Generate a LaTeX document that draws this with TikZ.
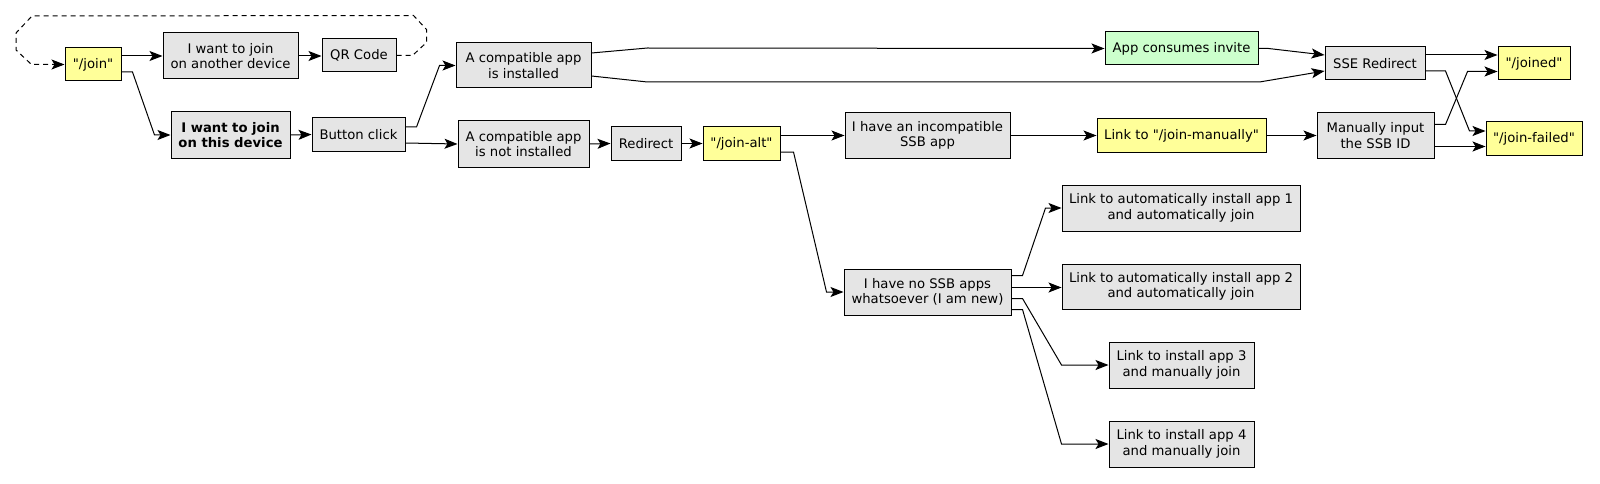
\documentclass[tikz,border=0pt]{standalone}
\usepackage{fontspec}
\setmainfont{DejaVu Sans}
\usetikzlibrary{arrows.meta}
\usetikzlibrary{calc}
\definecolor{boxgray}{HTML}{E5E5E5}
\definecolor{boxyellow}{HTML}{FFFF99}
\definecolor{boxgreen}{HTML}{CCFFCC}
\newcommand{\qroute}[1]{\textquotedbl#1\textquotedbl}

\begin{document}
\begin{tikzpicture}[x=1pt,y=-1pt,
    every node/.style={font=\fontsize{13.2}{15.5}\selectfont},
    box/.style={draw=black, line width=1pt, fill=boxgray, align=center, inner sep=0pt},
    ybox/.style={box, fill=boxyellow},
    gbox/.style={box, fill=boxgreen},
    arr/.style={-{Stealth[length=13pt,width=10pt,inset=3pt]}, line width=1pt}]
     \useasboundingbox (0,0) rectangle (1600,484);

     \node[ybox, minimum width=56, minimum height=33] (join) at (93,64.5) {\qroute{/join}};
     \node[box, minimum width=135, minimum height=46] (another) at (230.5,56) {I want to join\\on another device};
     \node[box, minimum width=74, minimum height=33] (qr) at (359,55.5) {QR Code};
     \node[box, minimum width=119, minimum height=46, font=\fontsize{13.2}{15.5}\selectfont\bfseries] (thisdev) at (230.5,135) {I want to join\\on this device};
     \node[box, minimum width=93, minimum height=33] (button) at (358.5,134.5) {Button click};

     \node[box, minimum width=135, minimum height=45] (installed) at (523.5,65.5) {A compatible app\\is installed};
     \node[box, minimum width=131, minimum height=46] (notinst) at (523.5,144) {A compatible app\\is not installed};
     \node[box, minimum width=70, minimum height=33] (redirect) at (646,143.5) {Redirect};
     \node[ybox, minimum width=77, minimum height=33] (joinalt) at (741.5,143.5) {\qroute{/join-alt}};
     \node[box, minimum width=165, minimum height=45] (incompat) at (927.5,135.5) {I have an incompatible\\SSB app};
     \node[box, minimum width=167, minimum height=46] (nossb) at (927.5,292) {I have no SSB apps\\whatsoever (I am new)};

     \node[gbox, minimum width=153, minimum height=33] (consumes) at (1181.5,48.5) {App consumes invite};
     \node[ybox, minimum width=169, minimum height=33] (linkman) at (1181.5,135.5) {Link to \qroute{/join-manually}};
     \node[box, minimum width=238, minimum height=46] (app1) at (1181,208) {Link to automatically install app 1\\and automatically join};
     \node[box, minimum width=238, minimum height=45] (app2) at (1181,286.5) {Link to automatically install app 2\\and automatically join};
     \node[box, minimum width=145, minimum height=46] (app3) at (1181.5,365) {Link to install app 3\\and manually join};
     \node[box, minimum width=145, minimum height=46] (app4) at (1181.5,444) {Link to install app 4\\and manually join};

     \node[box, minimum width=100, minimum height=33] (sse) at (1375,63.5) {SSE Redirect};
     \node[box, minimum width=117, minimum height=45] (manual) at (1375.5,135.5) {Manually input\\the SSB ID};
     \node[ybox, minimum width=72, minimum height=33] (joined) at (1534,63.5) {\qroute{/joined}};
     \node[ybox, minimum width=96, minimum height=33] (failed) at (1534,138.5) {\qroute{/join-failed}};

     \draw[arr] (join.east |- another.west) -- (another.west);
     \draw[arr] ($(join.east)+(0,7.5)$) -- ++(11,0) -- ($(thisdev.west)+(-16,0)$) -- (thisdev.west);
     \draw[arr] (another.east) -- (qr.west |- another.east);
     \draw[arr, dash pattern=on 5pt off 4pt] (qr.east) -- ++(16,0) -- ++(14,-13) -- ++(0,-13) -- ++(-13,-14)
          -- (32,16) -- (16,33) -- (16,50) -- ($(join.west)+(-33,0)$) -- (join.west);
     \draw[arr] (thisdev.east) -- (button.west);

     \draw[arr] ($(button.east)+(0,-7.5)$) -- ++(11,0) -- ($(installed.west)+(-16,0)$) -- (installed.west);
     \draw[arr] ($(button.east)+(0,8.5)$) -- (notinst.west);
     \draw[arr] ($(installed.east)+(0,-12.5)$) -- ++(56,-5) -- (consumes.west);
     \draw[arr] ($(installed.east)+(0,10.5)$) -- ++(56,6) -- ($(sse.west)+(-65,18.5)$) -- ($(sse.west)+(0,7.5)$);
     \draw[arr] (consumes.east) -- ++(10,0) -- ($(sse.west)+(0,-8.5)$);
     \draw[arr] (notinst.east) -- (redirect.west);
     \draw[arr] (redirect.east) -- (joinalt.west);
     \draw[arr] (joinalt.east |- incompat.west) -- (incompat.west);
     \draw[arr] ($(joinalt.east)+(0,8.5)$) -- ++(13,0) -- ($(nossb.west)+(-17,0)$) -- (nossb.west);
     \draw[arr] (incompat.east) -- (linkman.west);
     \draw[arr] (linkman.east) -- (manual.west);

     \draw[arr] ($(sse.east)+(0,-8.5)$) -- ($(joined.west)+(0,-8.5)$);
     \draw[arr] ($(sse.east)+(0,7.5)$) -- ++(20,0) -- ($(failed.west)+(-16,-7.5)$) -- ($(failed.west)+(0,-7.5)$);
     \draw[arr] ($(manual.east)+(0,-11)$) -- ++(11,0) -- ($(joined.west)+(-30,8)$) -- ($(joined.west)+(0,8)$);
     \draw[arr] ($(manual.east)+(0,11)$) -- ($(failed.west)+(0,8)$);

     \draw[arr] ($(nossb.east)+(0,-16.5)$) -- ++(11,0) -- ($(app1.west)+(-16,0)$) -- (app1.west);
     \draw[arr] ($(nossb.east)+(0,-4.5)$) -- (app2.west |- {$(nossb.east)+(0,-4.5)$});
     \draw[arr] ($(nossb.east)+(0,6.5)$) -- ++(11,0) -- ($(app3.west)+(-47,0)$) -- (app3.west);
     \draw[arr] ($(nossb.east)+(0,17.5)$) -- ++(11,0) -- ($(app4.west)+(-47,0)$) -- (app4.west);
    \end{tikzpicture}
\end{document}
